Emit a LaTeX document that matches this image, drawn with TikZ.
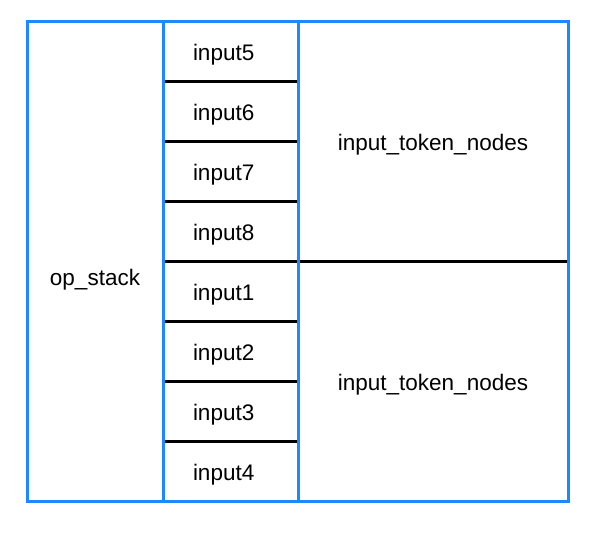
\documentclass[tikz,border=0pt]{standalone}
\usepackage{fontspec}
\setmainfont{Liberation Sans}
\definecolor{myblue}{RGB}{30,136,255}
\usetikzlibrary{positioning}

\begin{document}
\begin{tikzpicture}[x=1pt,y=1pt,
        cellbox/.style={minimum width=135pt,minimum height=60pt,inner sep=0pt,outer sep=0pt,
            text height=20pt,text depth=2pt,font=\fontsize{22.5}{26}\selectfont},
        inbox/.style={cellbox,text width=75pt,align=left},
        tokbox/.style={cellbox,minimum width=270pt,minimum height=240pt},
        stackbox/.style={cellbox,minimum width=136pt,minimum height=480pt,text height=50pt},
        sepline/.style={black,line width=3pt},
        bluline/.style={myblue,line width=3pt}]
    \useasboundingbox (0,0) rectangle (600,533);
    % input column
    \node[inbox] (in5) at (230.5,481) {input5};
    \foreach \n/\p in {6/5,7/6,8/7,1/8,2/1,3/2,4/3}
        \node[inbox,below=0pt of in\p] (in\n) {input\n};
    % side columns
    \node[stackbox,anchor=north east] (opstack) at (in5.north west) {op\_stack};
    \node[tokbox,anchor=north west] (tokhi) at (in5.north east) {input\_token\_nodes};
    \node[tokbox,below=0pt of tokhi] (toklo) {input\_token\_nodes};
    % separators
    \foreach \n in {5,6,7,1,2,3}
        \draw[sepline] (in\n.south west) -- (in\n.south east);
    \draw[sepline] (in8.south west) -- (tokhi.south east);
    % frame
    \draw[bluline] (in5.north west) -- (in4.south west);
    \draw[bluline] (in5.north east) -- (in4.south east);
    \draw[bluline] (opstack.north west) rectangle (toklo.south east);
\end{tikzpicture}
\end{document}
